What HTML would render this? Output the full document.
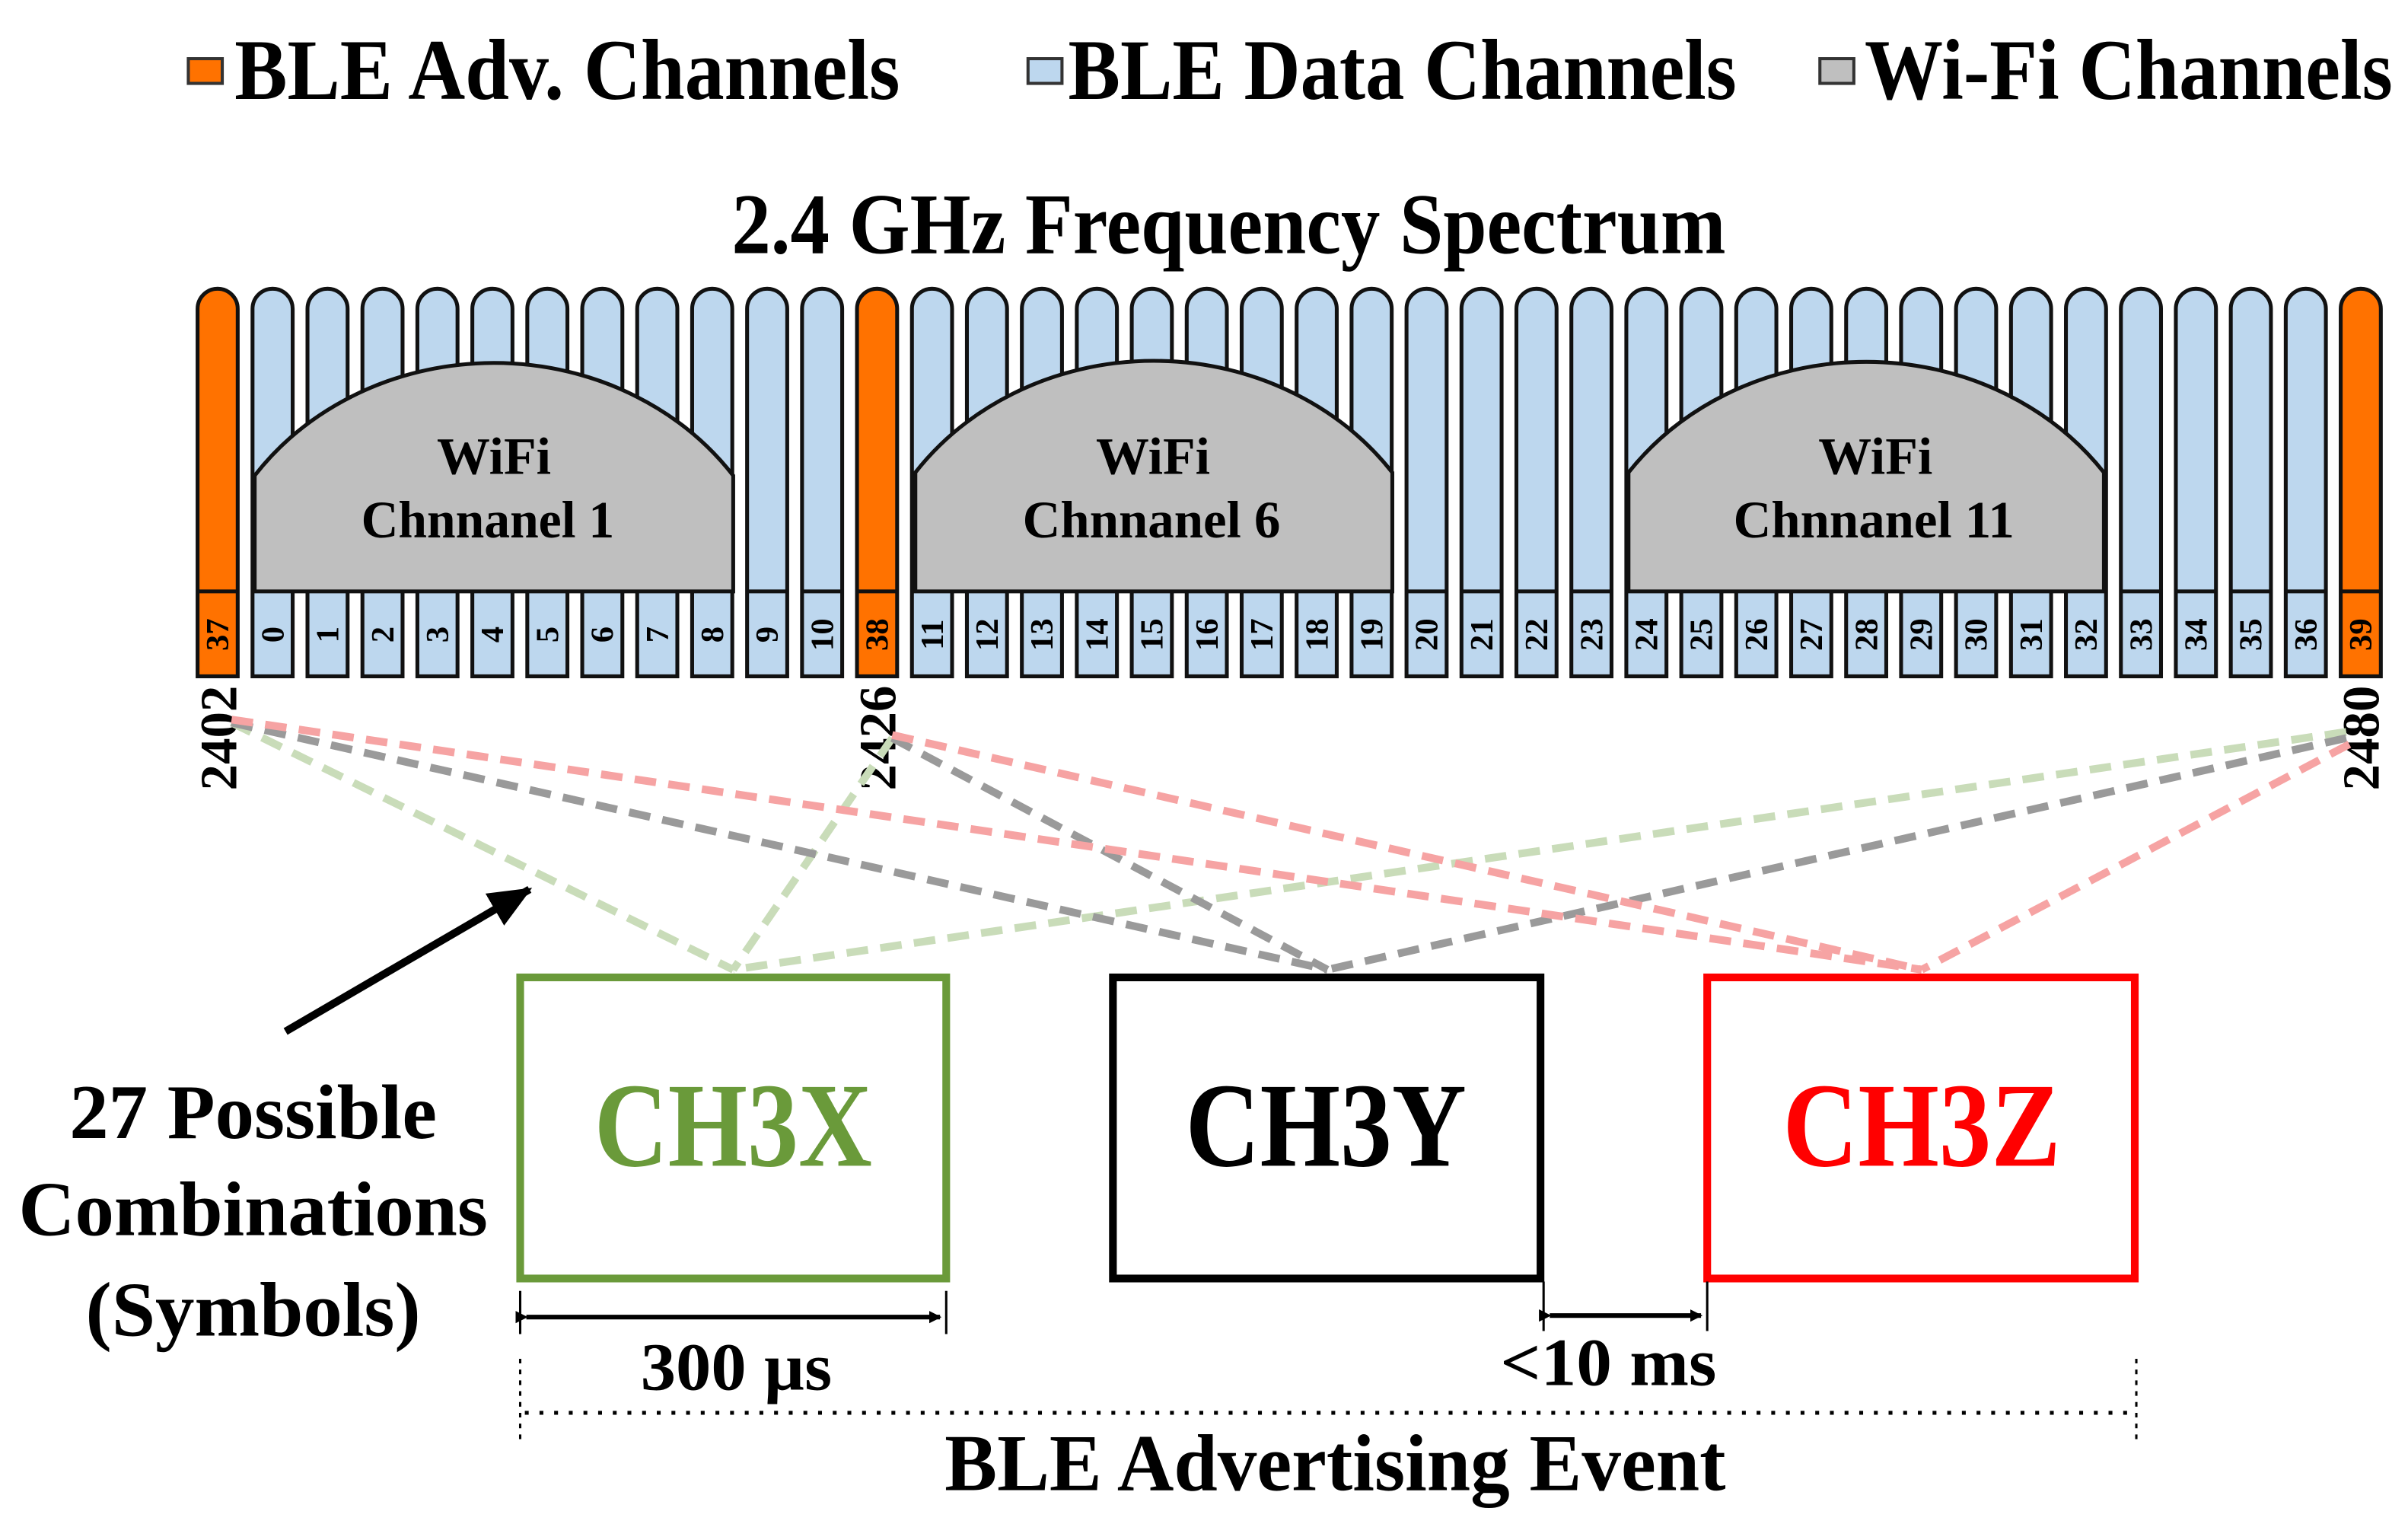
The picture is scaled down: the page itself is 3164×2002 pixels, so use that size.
<!DOCTYPE html>
<html><head><meta charset="utf-8"><style>html,body{margin:0;padding:0;background:#fff}svg{display:block}</style></head><body>
<svg xmlns="http://www.w3.org/2000/svg" width="3164" height="2002" viewBox="0 0 1560 987" preserveAspectRatio="none" font-family="'Liberation Serif', serif" font-weight="bold">
<defs>
<marker id="ah" markerWidth="8" markerHeight="8" refX="7" refY="4" orient="auto" markerUnits="userSpaceOnUse"><path d="M0,0 L8,4 L0,8 Z" fill="#000"/></marker>
<marker id="ah2" markerWidth="30" markerHeight="30" refX="26" refY="15" orient="auto" markerUnits="userSpaceOnUse"><path d="M0,3 L28,15 L0,27 Z" fill="#000"/></marker>
</defs>
<!-- legend -->
<rect x="122" y="38" width="22" height="16" fill="#ff7200" stroke="#333" stroke-width="2"/>
<text x="152" y="64" font-size="56" textLength="431" lengthAdjust="spacingAndGlyphs">BLE Adv. Channels</text>
<rect x="666" y="38" width="22" height="16" fill="#bdd7ee" stroke="#333" stroke-width="2"/>
<text x="692" y="64" font-size="56" textLength="433" lengthAdjust="spacingAndGlyphs">BLE Data Channels</text>
<rect x="1179" y="38" width="22" height="16" fill="#bfbfbf" stroke="#333" stroke-width="2"/>
<text x="1208" y="64" font-size="56" textLength="342" lengthAdjust="spacingAndGlyphs">Wi-Fi Channels</text>
<text x="474" y="164" font-size="56" textLength="644" lengthAdjust="spacingAndGlyphs">2.4 GHz Frequency Spectrum</text>

<!-- bars -->
<g stroke="#111" stroke-width="2.5">
<g fill="#ff7200">
<path d="M128,438V200A13,13 0 0 1 154,200V438Z"/>
<path d="M555.2,438V200A13,13 0 0 1 581.2,200V438Z"/>
<path d="M1516.4,438V200A13,13 0 0 1 1542.4,200V438Z"/>
</g>
<g fill="#bdd7ee">
<path d="M163.6,438V200A13,13 0 0 1 189.6,200V438Z"/>
<path d="M199.2,438V200A13,13 0 0 1 225.2,200V438Z"/>
<path d="M234.8,438V200A13,13 0 0 1 260.8,200V438Z"/>
<path d="M270.4,438V200A13,13 0 0 1 296.4,200V438Z"/>
<path d="M306,438V200A13,13 0 0 1 332,200V438Z"/>
<path d="M341.6,438V200A13,13 0 0 1 367.6,200V438Z"/>
<path d="M377.2,438V200A13,13 0 0 1 403.2,200V438Z"/>
<path d="M412.8,438V200A13,13 0 0 1 438.8,200V438Z"/>
<path d="M448.4,438V200A13,13 0 0 1 474.4,200V438Z"/>
<path d="M484,438V200A13,13 0 0 1 510,200V438Z"/>
<path d="M519.6,438V200A13,13 0 0 1 545.6,200V438Z"/>
<path d="M590.8,438V200A13,13 0 0 1 616.8,200V438Z"/>
<path d="M626.4,438V200A13,13 0 0 1 652.4,200V438Z"/>
<path d="M662,438V200A13,13 0 0 1 688,200V438Z"/>
<path d="M697.6,438V200A13,13 0 0 1 723.6,200V438Z"/>
<path d="M733.2,438V200A13,13 0 0 1 759.2,200V438Z"/>
<path d="M768.8,438V200A13,13 0 0 1 794.8,200V438Z"/>
<path d="M804.4,438V200A13,13 0 0 1 830.4,200V438Z"/>
<path d="M840,438V200A13,13 0 0 1 866,200V438Z"/>
<path d="M875.6,438V200A13,13 0 0 1 901.6,200V438Z"/>
<path d="M911.2,438V200A13,13 0 0 1 937.2,200V438Z"/>
<path d="M946.8,438V200A13,13 0 0 1 972.8,200V438Z"/>
<path d="M982.4,438V200A13,13 0 0 1 1008.4,200V438Z"/>
<path d="M1018,438V200A13,13 0 0 1 1044,200V438Z"/>
<path d="M1053.6,438V200A13,13 0 0 1 1079.6,200V438Z"/>
<path d="M1089.2,438V200A13,13 0 0 1 1115.2,200V438Z"/>
<path d="M1124.8,438V200A13,13 0 0 1 1150.8,200V438Z"/>
<path d="M1160.4,438V200A13,13 0 0 1 1186.4,200V438Z"/>
<path d="M1196,438V200A13,13 0 0 1 1222,200V438Z"/>
<path d="M1231.6,438V200A13,13 0 0 1 1257.6,200V438Z"/>
<path d="M1267.2,438V200A13,13 0 0 1 1293.2,200V438Z"/>
<path d="M1302.8,438V200A13,13 0 0 1 1328.8,200V438Z"/>
<path d="M1338.4,438V200A13,13 0 0 1 1364.4,200V438Z"/>
<path d="M1374,438V200A13,13 0 0 1 1400,200V438Z"/>
<path d="M1409.6,438V200A13,13 0 0 1 1435.6,200V438Z"/>
<path d="M1445.2,438V200A13,13 0 0 1 1471.2,200V438Z"/>
<path d="M1480.8,438V200A13,13 0 0 1 1506.8,200V438Z"/>
</g>
<path d="M128,383h26M555.2,383h26M1516.4,383h26M484,383h26M519.6,383h26M911.2,383h26M946.8,383h26M982.4,383h26M1018,383h26M1374,383h26M1409.6,383h26M1445.2,383h26M1480.8,383h26" fill="none"/>
<!-- wifi humps -->
<g fill="#bfbfbf">
<path d="M165,383V308A190,173 0 0 1 475,308V383Z"/>
<path d="M593,383V306A190,173 0 0 1 902,306V383Z"/>
<path d="M1055,383V306A190,173 0 0 1 1363,306V383Z"/>
</g>
</g>
<g font-size="34" text-anchor="middle">
<text x="320" y="307" textLength="74" lengthAdjust="spacingAndGlyphs">WiFi</text>
<text x="316" y="348" textLength="164" lengthAdjust="spacingAndGlyphs">Chnnanel 1</text>
<text x="747" y="307" textLength="74" lengthAdjust="spacingAndGlyphs">WiFi</text>
<text x="746" y="348" textLength="167" lengthAdjust="spacingAndGlyphs">Chnnanel 6</text>
<text x="1215" y="307" textLength="74" lengthAdjust="spacingAndGlyphs">WiFi</text>
<text x="1214" y="348" textLength="182" lengthAdjust="spacingAndGlyphs">Chnnanel 11</text>
</g>
<!-- channel numbers -->
<g font-size="21" text-anchor="middle">
<text transform="translate(148,411) rotate(-90)">37</text>
<text transform="translate(183.6,411) rotate(-90)">0</text>
<text transform="translate(219.2,411) rotate(-90)">1</text>
<text transform="translate(254.8,411) rotate(-90)">2</text>
<text transform="translate(290.4,411) rotate(-90)">3</text>
<text transform="translate(326,411) rotate(-90)">4</text>
<text transform="translate(361.6,411) rotate(-90)">5</text>
<text transform="translate(397.2,411) rotate(-90)">6</text>
<text transform="translate(432.8,411) rotate(-90)">7</text>
<text transform="translate(468.4,411) rotate(-90)">8</text>
<text transform="translate(504,411) rotate(-90)">9</text>
<text transform="translate(539.6,411) rotate(-90)">10</text>
<text transform="translate(575.2,411) rotate(-90)">38</text>
<text transform="translate(610.8,411) rotate(-90)">11</text>
<text transform="translate(646.4,411) rotate(-90)">12</text>
<text transform="translate(682,411) rotate(-90)">13</text>
<text transform="translate(717.6,411) rotate(-90)">14</text>
<text transform="translate(753.2,411) rotate(-90)">15</text>
<text transform="translate(788.8,411) rotate(-90)">16</text>
<text transform="translate(824.4,411) rotate(-90)">17</text>
<text transform="translate(860,411) rotate(-90)">18</text>
<text transform="translate(895.6,411) rotate(-90)">19</text>
<text transform="translate(931.2,411) rotate(-90)">20</text>
<text transform="translate(966.8,411) rotate(-90)">21</text>
<text transform="translate(1002.4,411) rotate(-90)">22</text>
<text transform="translate(1038,411) rotate(-90)">23</text>
<text transform="translate(1073.6,411) rotate(-90)">24</text>
<text transform="translate(1109.2,411) rotate(-90)">25</text>
<text transform="translate(1144.8,411) rotate(-90)">26</text>
<text transform="translate(1180.4,411) rotate(-90)">27</text>
<text transform="translate(1216,411) rotate(-90)">28</text>
<text transform="translate(1251.6,411) rotate(-90)">29</text>
<text transform="translate(1287.2,411) rotate(-90)">30</text>
<text transform="translate(1322.8,411) rotate(-90)">31</text>
<text transform="translate(1358.4,411) rotate(-90)">32</text>
<text transform="translate(1394,411) rotate(-90)">33</text>
<text transform="translate(1429.6,411) rotate(-90)">34</text>
<text transform="translate(1465.2,411) rotate(-90)">35</text>
<text transform="translate(1500.8,411) rotate(-90)">36</text>
<text transform="translate(1536.4,411) rotate(-90)">39</text>
</g>
<!-- frequency labels -->
<g font-size="34" text-anchor="middle">
<text transform="translate(153,478) rotate(-90)" textLength="68" lengthAdjust="spacingAndGlyphs">2402</text>
<text transform="translate(580,478) rotate(-90)" textLength="68" lengthAdjust="spacingAndGlyphs">2426</text>
<text transform="translate(1541,478) rotate(-90)" textLength="68" lengthAdjust="spacingAndGlyphs">2480</text>
</g>
<!-- dashed connectors -->
<g fill="none" stroke-width="5" stroke-dasharray="14 8">
<g stroke="#c9dcb9"><path d="M150,468L475,628M578,478L475,628M1520,474L475,628"/></g>
<g stroke="#9a9a9a"><path d="M150,468L860,628M578,478L860,628M1520,478L860,628"/></g>
<g stroke="#f6a3a3"><path d="M150,466L1245,628M578,476L1245,628M1522,482L1245,628"/></g>
</g>
<!-- boxes -->
<rect x="337" y="633" width="276" height="195" fill="none" stroke="#6a9a3a" stroke-width="5"/>
<rect x="721" y="633" width="277" height="195" fill="none" stroke="#000" stroke-width="5"/>
<rect x="1106" y="633" width="277" height="195" fill="none" stroke="#ff0000" stroke-width="5"/>
<g font-size="78" text-anchor="middle">
<text x="475" y="755" fill="#6a9a3a" textLength="180" lengthAdjust="spacingAndGlyphs">CH3X</text>
<text x="859" y="755" fill="#000" textLength="182" lengthAdjust="spacingAndGlyphs">CH3Y</text>
<text x="1245" y="755" fill="#ff0000" textLength="180" lengthAdjust="spacingAndGlyphs">CH3Z</text>
</g>
<!-- arrow -->
<line x1="185" y1="668" x2="343" y2="576" stroke="#000" stroke-width="5" marker-end="url(#ah2)"/>
<g font-size="50" text-anchor="middle">
<text x="164" y="737" textLength="238" lengthAdjust="spacingAndGlyphs">27 Possible</text>
<text x="164" y="800" textLength="304" lengthAdjust="spacingAndGlyphs">Combinations</text>
<text x="164" y="865" textLength="217" lengthAdjust="spacingAndGlyphs">(Symbols)</text>
</g>
<!-- dimensions -->
<g stroke="#000" stroke-width="1.5"><path d="M337,836V864M613,836V864M1000,830V862M1106,830V862"/></g>
<line x1="341" y1="853" x2="609" y2="853" stroke="#000" stroke-width="3" marker-start="url(#ah)" marker-end="url(#ah)"/>
<line x1="1004" y1="852" x2="1102" y2="852" stroke="#000" stroke-width="3" marker-start="url(#ah)" marker-end="url(#ah)"/>
<g font-size="44" text-anchor="middle">
<text x="477" y="900" textLength="124" lengthAdjust="spacingAndGlyphs">300 µs</text>
<text x="1042" y="897" textLength="140" lengthAdjust="spacingAndGlyphs">&lt;10 ms</text>
</g>
<g stroke="#000" stroke-width="1.5" stroke-dasharray="3 4" fill="none"><path d="M337,880V932M1384,880V932"/></g>
<line x1="340" y1="915" x2="1381" y2="915" stroke="#000" stroke-width="2.5" stroke-dasharray="2.5 7"/>
<text x="865" y="965" font-size="52" text-anchor="middle" textLength="506" lengthAdjust="spacingAndGlyphs">BLE Advertising Event</text>
</svg>
</body></html>
